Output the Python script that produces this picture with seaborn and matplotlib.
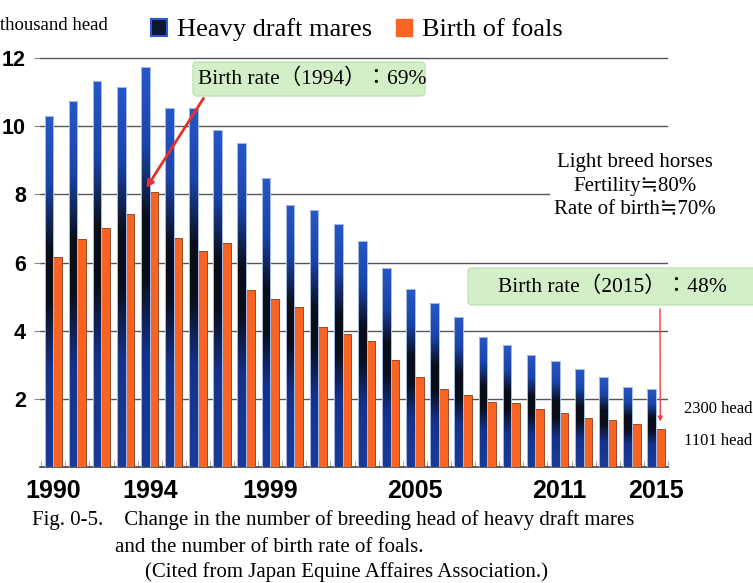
import numpy as np
import pandas as pd
import matplotlib
matplotlib.use('Agg')
import matplotlib.pyplot as plt
from matplotlib.colors import LinearSegmentedColormap
from matplotlib.patches import FancyBboxPatch, Patch
import seaborn as sns

# values in thousand head
years = list(range(1990, 2016))
mares = [10.3, 10.75, 11.33, 11.15, 11.74, 10.52, 10.52, 9.88, 9.5, 8.48,
         7.69, 7.54, 7.13, 6.64, 5.85, 5.23, 4.8, 4.39, 3.8, 3.57,
         3.3, 3.1, 2.87, 2.65, 2.35, 2.3]
foals = [6.17, 6.7, 7.0, 7.43, 8.07, 6.72, 6.35, 6.58, 5.2, 4.94,
         4.68, 4.1, 3.89, 3.71, 3.13, 2.63, 2.3, 2.1, 1.9, 1.87,
         1.7, 1.58, 1.43, 1.37, 1.26, 1.101]
series_names = ['Heavy draft mares', 'Birth of foals']
year_labels = ['1990', '1994', '1999', '2005', '2011', '2015']
y_ticks = [2, 4, 6, 8, 10, 12]

W, H = 753, 583
SERIF = ['Liberation Serif', 'Noto Sans CJK JP', 'DejaVu Serif']
BLUE = '#1d47b0'
ORANGE = '#fa6423'


def fx(px):
    return px / W


def fy(py):
    return 1 - py / H


df = pd.DataFrame({
    'year': [str(y) for y in years] * 2,
    'series': [series_names[0]] * len(years) + [series_names[1]] * len(years),
    'value': mares + foals,
})

fig = plt.figure(figsize=(W / 100, H / 100), dpi=100)
ax = fig.add_axes([fx(40), fy(467), fx(668) - fx(40), (467 - 57) / H])

sns.barplot(data=df, x='year', y='value', hue='series', palette=[BLUE, ORANGE],
            width=0.72, saturation=1, legend=False, ax=ax, zorder=3)

# blue -> black -> blue shading on the mare bars
cmap = LinearSegmentedColormap.from_list('mare', [
    (0.0, '#1b3c98'), (0.28, '#15328a'), (0.47, '#0a0e1a'),
    (0.62, '#0a0e1a'), (0.8, '#1a44a8'), (1.0, '#2758c8')])
grad = np.linspace(0, 1, 256).reshape(-1, 1)
for bar in ax.containers[0]:
    x0, w, h = bar.get_x(), bar.get_width(), bar.get_height()
    im = ax.imshow(grad, extent=[x0, x0 + w, 0, h], origin='lower', aspect='auto',
                   cmap=cmap, zorder=3.1, interpolation='bilinear')
    im.set_clip_path(bar)
    bar.set_facecolor('none')
    bar.set_edgecolor('#a8bce6')
    bar.set_linewidth(0.7)
    bar.set_zorder(3.2)
for bar in ax.containers[1]:
    bar.set_edgecolor('#8a3a1a')
    bar.set_linewidth(0.6)

ax.set_xlim(-0.55, len(years) - 0.55)
ax.set_ylim(0, 12.03)
ax.set_xlabel('')
ax.set_ylabel('')

ax.set_yticks(y_ticks)
ax.yaxis.grid(True, color='#555555', lw=1)
ax.set_axisbelow(True)
for s in ['top', 'right', 'left']:
    ax.spines[s].set_visible(False)
ax.spines['bottom'].set_color('#444444')
ax.spines['bottom'].set_linewidth(1.2)

ax.tick_params(axis='y', length=4, color='#888888', pad=6)
for lab in ax.get_yticklabels():
    lab.set_fontfamily(['Liberation Sans', 'DejaVu Sans'])
    lab.set_fontweight('bold')
    lab.set_fontsize(15.5)

ax.set_xticks([years.index(int(l)) for l in year_labels], year_labels)
ax.set_xticks(np.arange(-0.5, len(years), 1), minor=True)
ax.tick_params(axis='x', which='major', length=0, pad=9)
ax.tick_params(axis='x', which='minor', direction='in', length=4, color='#999999')
for lab in ax.get_xticklabels():
    lab.set_fontfamily(['Liberation Sans Narrow', 'Liberation Sans', 'DejaVu Sans'])
    lab.set_fontweight('bold')
    lab.set_fontsize(18)

fig.text(0, fy(25), 'thousand head', ha='left', va='center', fontsize=13.5, family=SERIF)

handles = [Patch(facecolor='#0e1635', edgecolor='#2a5ad0', lw=1.5),
           Patch(facecolor=ORANGE, edgecolor=ORANGE)]
fig.legend(handles, series_names, loc='center', bbox_to_anchor=(fx(357), fy(30)),
           ncol=2, frameon=False, prop={'family': SERIF, 'size': 19},
           handlelength=0.6, handleheight=0.6, handletextpad=0.4, columnspacing=0.9)

# green callouts
fig.add_artist(FancyBboxPatch((fx(193), fy(96)), fx(425) - fx(193), 34 / H,
                              boxstyle='round,pad=0,rounding_size=0.006',
                              transform=fig.transFigure, facecolor='#d3efc7',
                              edgecolor='#bfe3b0', zorder=5))
fig.text(fx(312), fy(79), 'Birth rate（1994）：69%', ha='center', va='center',
         fontsize=15.5, family=SERIF, zorder=6)
fig.add_artist(FancyBboxPatch((fx(468), fy(305)), 300 / W, 37 / H,
                              boxstyle='round,pad=0,rounding_size=0.006',
                              transform=fig.transFigure, facecolor='#d3efc7',
                              edgecolor='#bfe3b0', zorder=5))
fig.text(fx(612), fy(287), 'Birth rate（2015）：48%', ha='center', va='center',
         fontsize=15.5, family=SERIF, zorder=6)

ax.annotate('', xy=(years.index(1994) - 0.2, foals[4] + 0.05), xycoords='data',
            xytext=(fx(205), fy(96)), textcoords='figure fraction',
            arrowprops=dict(arrowstyle='-|>', color='#e8302a', lw=2, mutation_scale=10),
            zorder=7, annotation_clip=False)
ax.annotate('', xy=(years.index(2015) + 0.18, foals[-1] + 0.15), xycoords='data',
            xytext=(fx(660), fy(306)), textcoords='figure fraction',
            arrowprops=dict(arrowstyle='-|>', color='#f04040', lw=1, mutation_scale=7),
            zorder=7, annotation_clip=False)

fig.text(fx(635), fy(186), 'Light breed horses\nFertility≒80%\nRate of birth≒70%',
         ha='center', va='center', multialignment='center', fontsize=15,
         linespacing=1.35, family=SERIF,
         bbox=dict(facecolor='white', edgecolor='none', pad=3))

fig.text(fx(684), fy(409), '2300 head', ha='left', va='center', fontsize=12, family=SERIF)
fig.text(fx(684), fy(441), '1101 head', ha='left', va='center', fontsize=12, family=SERIF)

fig.text(fx(32), fy(520), 'Fig. 0-5.    Change in the number of breeding head of heavy draft mares',
         ha='left', va='center', fontsize=15, family=SERIF)
fig.text(fx(115), fy(547), 'and the number of birth rate of foals.',
         ha='left', va='center', fontsize=15, family=SERIF)
fig.text(fx(145), fy(572), '(Cited from Japan Equine Affaires Association.)',
         ha='left', va='center', fontsize=15, family=SERIF)

fig.savefig('out.png', dpi=100)
